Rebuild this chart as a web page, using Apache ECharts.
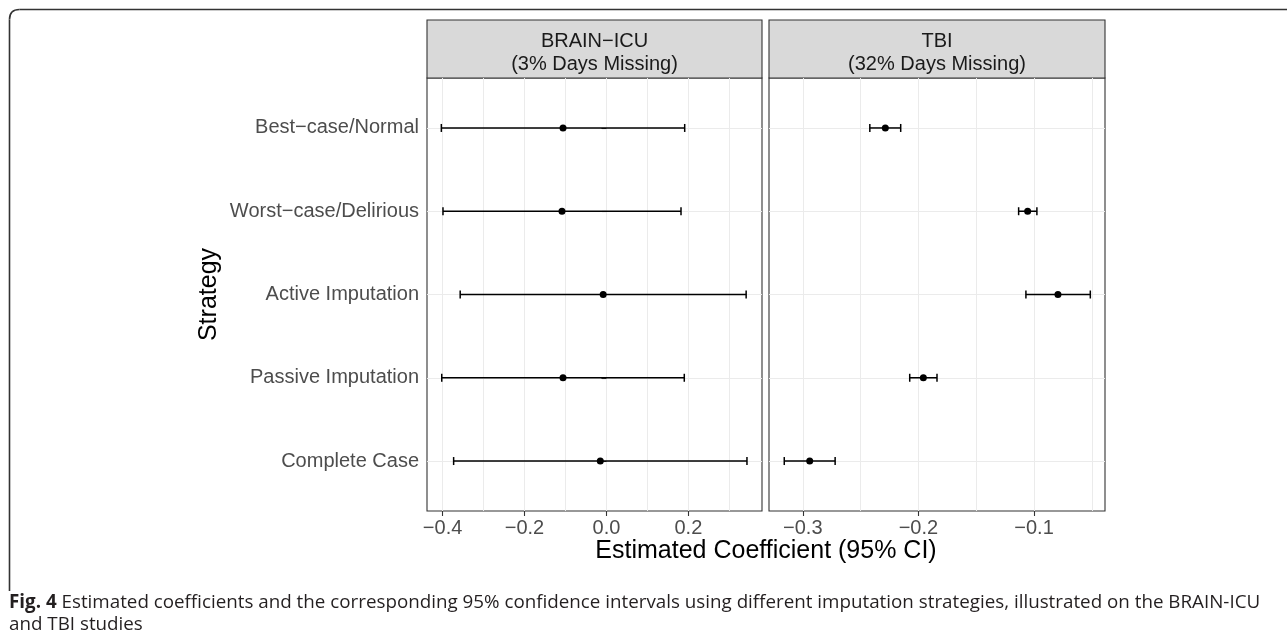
<!DOCTYPE html>
<html>
<head>
<meta charset="utf-8">
<script src="https://cdn.jsdelivr.net/npm/echarts@6/dist/echarts.min.js"></script>
<style>
html,body{margin:0;padding:0;background:#fff;}
#chart{width:1287px;height:634px;}
</style>
</head>
<body>
<div id="chart"></div>
<script>
// Categories, bottom to top (ggplot factor order)
const categories = ['Complete Case', 'Passive Imputation', 'Active Imputation', 'Worst\u2212case/Delirious', 'Best\u2212case/Normal'];
const panels = ['BRAIN\u2212ICU', 'TBI'];
const panelSubtitles = ['(3% Days Missing)', '(32% Days Missing)'];

// BRAIN-ICU estimates and 95% CI
const brainEst = [-0.015, -0.106, -0.008, -0.1085, -0.106];
const brainLo  = [-0.373, -0.402, -0.357, -0.399, -0.403];
const brainHi  = [0.343, 0.190, 0.341, 0.182, 0.191];

// TBI estimates and 95% CI
const tbiEst = [-0.294, -0.1957, -0.0793, -0.1055, -0.2286];
const tbiLo  = [-0.316, -0.2075, -0.107, -0.1133, -0.242];
const tbiHi  = [-0.272, -0.1839, -0.0513, -0.0975, -0.2153];

// Tick labels and grid positions
const brainTicks = [-0.4, -0.2, 0.0, 0.2];
const brainGrid = [-0.4, -0.3, -0.2, -0.1, 0.0, 0.1, 0.2, 0.3];
const tbiTicks = [-0.3, -0.2, -0.1];
const tbiGrid = [-0.3, -0.25, -0.2, -0.15, -0.1, -0.05];
const catIdx = [0, 1, 2, 3, 4];

const xTitle = 'Estimated Coefficient (95% CI)';
const yTitle = 'Strategy';
const captionBold = 'Fig. 4';
const captionText = ' Estimated coefficients and the corresponding 95% confidence intervals using different imputation strategies, illustrated on the BRAIN-ICU';
const captionText2 = 'and TBI studies';

const FONT = '"Liberation Sans", Arial, Helvetica, sans-serif';
const fmt = v => v.toFixed(1).replace('-', '\u2212');

const G = [
  {left: 427, top: 78, width: 335, height: 433, min: -0.438, max: 0.3797},
  {left: 769, top: 78, width: 336, height: 433, min: -0.3292, max: -0.0386}
];
const ticksArr = [brainTicks, tbiTicks];
const gridArr = [brainGrid, tbiGrid];

const grids = G.map(g => ({left: g.left, top: g.top, width: g.width, height: g.height, show: true,
  borderColor: '#333333', borderWidth: 1.1, backgroundColor: 'transparent', containLabel: false}));

const xAxes = [];
G.forEach((g, i) => {
  // grid-line axis
  xAxes.push({type: 'value', gridIndex: i, position: 'bottom', min: g.min, max: g.max,
    axisLine: {show: false}, axisLabel: {show: false},
    axisTick: {show: false, customValues: gridArr[i]},
    splitLine: {show: true, lineStyle: {color: '#EBEBEB', width: 1}}});
  // label axis
  xAxes.push({type: 'value', gridIndex: i, position: 'bottom', offset: 0, min: g.min, max: g.max,
    axisLine: {show: false},
    axisTick: {show: true, inside: false, length: 5, customValues: ticksArr[i], lineStyle: {color: '#333333', width: 1.1}},
    axisLabel: {show: true, customValues: ticksArr[i], formatter: fmt, margin: 7, color: '#4D4D4D', fontSize: 20, fontFamily: FONT},
    splitLine: {show: false}});
});

const yAxes = G.map((g, i) => ({type: 'value', gridIndex: i, position: 'left', min: -0.6, max: 4.6,
  axisLine: {show: false},
  axisTick: {show: i === 0, length: 5, customValues: catIdx, lineStyle: {color: '#333333', width: 1.1}},
  axisLabel: {show: i === 0, customValues: catIdx, formatter: v => categories[Math.round(v)], margin: 8, color: '#4D4D4D', fontSize: 20, fontFamily: FONT},
  splitLine: {show: true, lineStyle: {color: '#EBEBEB', width: 1.1}}}));

function renderErr(params, api) {
  const lo = api.value(0), hi = api.value(1), y = api.value(2);
  const p1 = api.coord([lo, y]), p2 = api.coord([hi, y]);
  const h = 4;
  const style = {stroke: '#000', lineWidth: 1.5};
  return {type: 'group', children: [
    {type: 'line', shape: {x1: p1[0], y1: p1[1], x2: p2[0], y2: p2[1]}, style},
    {type: 'line', shape: {x1: p1[0], y1: p1[1] - h, x2: p1[0], y2: p1[1] + h}, style},
    {type: 'line', shape: {x1: p2[0], y1: p2[1] - h, x2: p2[0], y2: p2[1] + h}, style}
  ]};
}

const estArr = [brainEst, tbiEst], loArr = [brainLo, tbiLo], hiArr = [brainHi, tbiHi];
const series = [];
[0, 1].forEach(i => {
  series.push({type: 'custom', xAxisIndex: 2 * i + 1, yAxisIndex: i, renderItem: renderErr,
    encode: {x: [0, 1], y: 2}, silent: true, z: 3,
    data: catIdx.map(k => [loArr[i][k], hiArr[i][k], k])});
  series.push({type: 'scatter', xAxisIndex: 2 * i + 1, yAxisIndex: i, symbol: 'circle', symbolSize: 7,
    itemStyle: {color: '#000', opacity: 1}, silent: true, z: 4,
    data: catIdx.map(k => [estArr[i][k], k])});
});

const graphics = [];
// outer frame
const frameStyle = {fill: null, stroke: '#333333', lineWidth: 1.6};
graphics.push({type: 'line', shape: {x1: 9.5, y1: 591, x2: 9.5, y2: 19.5}, style: frameStyle, silent: true});
graphics.push({type: 'bezierCurve', shape: {x1: 9.5, y1: 19.5, x2: 19.5, y2: 9.5, cpx1: 9.5, cpy1: 9.5}, style: frameStyle, silent: true});
graphics.push({type: 'line', shape: {x1: 19.5, y1: 9.5, x2: 1295, y2: 9.5}, style: frameStyle, silent: true});
// strips
G.forEach((g, i) => {
  graphics.push({type: 'rect', shape: {x: g.left, y: 20, width: g.width, height: 58},
    style: {fill: '#D9D9D9', stroke: '#333333', lineWidth: 1.1}, silent: true});
  graphics.push({type: 'text', x: g.left + g.width / 2, y: 41,
    style: {text: panels[i], font: '20px ' + FONT, fill: '#1A1A1A', align: 'center', verticalAlign: 'middle'}});
  graphics.push({type: 'text', x: g.left + g.width / 2, y: 64,
    style: {text: panelSubtitles[i], font: '20px ' + FONT, fill: '#1A1A1A', align: 'center', verticalAlign: 'middle'}});
});
// axis titles
graphics.push({type: 'text', x: 766, y: 551,
  style: {text: xTitle, font: '25px ' + FONT, fill: '#000', align: 'center', verticalAlign: 'middle'}});
graphics.push({type: 'text', x: 209, y: 294.5, rotation: Math.PI / 2,
  style: {text: yTitle, font: '25px ' + FONT, fill: '#000', align: 'center', verticalAlign: 'middle'}});
// caption
graphics.push({type: 'text', x: 9, y: 592,
  style: {text: '{b|' + captionBold + '}' + captionText + '\n' + captionText2,
    font: '18.8px "Open Sans", sans-serif', fill: '#231F20', align: 'left', verticalAlign: 'top', lineHeight: 22,
    rich: {b: {fontWeight: 'bold', fontSize: 18.8, fontFamily: '"Open Sans", sans-serif', fill: '#231F20', lineHeight: 22}}}});

const chart = echarts.init(document.getElementById('chart'), null, {renderer: 'canvas'});
chart.setOption({
  animation: false,
  backgroundColor: '#fff',
  grid: grids,
  xAxis: xAxes,
  yAxis: yAxes,
  series: series,
  graphic: graphics
});
</script>
</body>
</html>
